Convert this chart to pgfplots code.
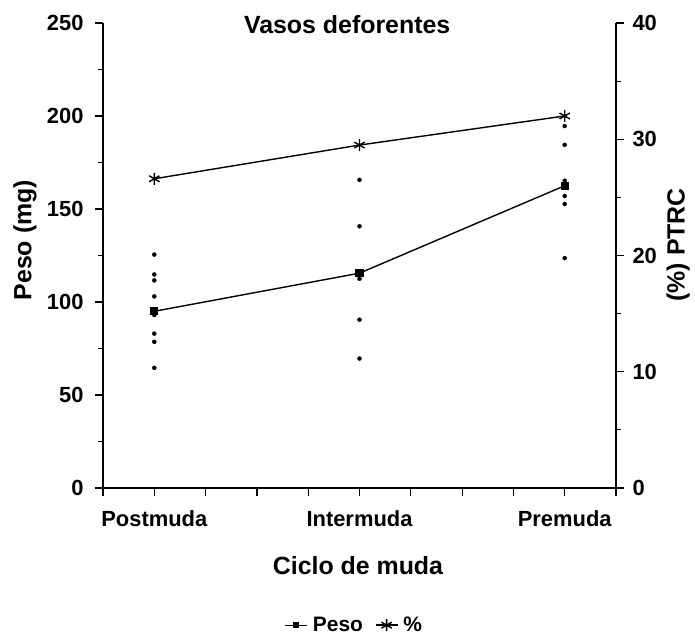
\documentclass[border=0pt]{standalone}
\usepackage{fontspec}
\setmainfont{Liberation Sans}
\usepackage{pgfplots}
\pgfplotsset{compat=1.18}

\begin{document}
\begin{tikzpicture}
\path[use as bounding box] (-103bp,-149bp) rectangle (592bp,488bp);

\pgfplotsset{
  base/.style={
    width=513bp, height=465bp, scale only axis,
    at={(0,0)}, anchor=south west,
    xmin=0, xmax=10,
    tick align=outside,
    major tick length=8bp, minor tick length=5bp,
    every tick/.style={black, line width=1.2bp},
    axis line style={-, line width=1.4bp},
    /pgf/number format/assume math mode=true,
    ticklabel style={font=\fontsize{22}{25}\selectfont\bfseries},
    label style={font=\fontsize{25}{28}\selectfont\bfseries},
  }
}

% eje izquierdo: peso
\begin{axis}[base,
  axis x line*=bottom, axis y line*=left,
  ymin=0, ymax=250,
  ytick={0,50,...,250}, minor ytick={25,75,...,225},
  yticklabel style={xshift=-8bp},
  xtick={0,...,10},
  xticklabels={,Postmuda,,,,Intermuda,,,,Premuda,},
  xticklabel style={yshift=-11bp},
  xlabel={Ciclo de muda},
  xlabel style={at={(axis description cs:0.497,-0.166)}, anchor=center},
  ylabel={Peso (mg)},
  ylabel style={at={(axis description cs:-0.152,0.533)}, anchor=center},
]
% valores individuales
\addplot[only marks, mark=*, mark size=2bp, black] coordinates {
  (1,125.5) (1,114.8) (1,111.6) (1,103) (1,93) (1,83) (1,78.6) (1,64.6)
  (5,165.7) (5,140.7) (5,112.5) (5,90.5) (5,69.6)
  (9,194.6) (9,184.5) (9,165.2) (9,157) (9,152.7) (9,123.6)
};
% media
\addplot[black, line width=1.4bp, mark=square*, mark size=3.5bp] coordinates {
  (1,95) (5,115.5) (9,162.5)
};
\end{axis}

% eje derecho: porcentaje
\begin{axis}[base,
  axis x line=none, axis y line*=right,
  ymin=0, ymax=40,
  ytick={0,10,...,40}, minor ytick={5,15,25,35},
  yticklabel style={xshift=5bp},
  ylabel={(\%) PTRC},
  ylabel style={at={(axis description cs:1.121,0.523)}, anchor=center},
  title={Vasos deforentes},
  title style={at={(axis description cs:0.476,0.983)}, anchor=center,
    font=\fontsize{25}{28}\selectfont\bfseries},
  legend image code/.code={
    \draw[#1, mark=none] (0bp,0bp) -- (22bp,0bp);
    \draw[#1] plot[only marks] coordinates {(11bp,0bp)};},
  legend style={at={(axis description cs:0.49,-0.295)}, anchor=center,
    draw=none, fill=none, legend columns=-1,
    font=\fontsize{21}{24}\selectfont\bfseries,
    /tikz/every odd column/.append style={column sep=3bp},
    /tikz/every even column/.append style={column sep=10bp}},
]
\addlegendimage{black, line width=1.2bp, mark=square*, mark size=2.5bp}
\addlegendentry{Peso}
\addplot[black, line width=1.4bp, mark=asterisk, mark size=6bp] coordinates {
  (1,26.6) (5,29.5) (9,32.0)
};
\addlegendentry{\%}
\end{axis}
\end{tikzpicture}
\end{document}
